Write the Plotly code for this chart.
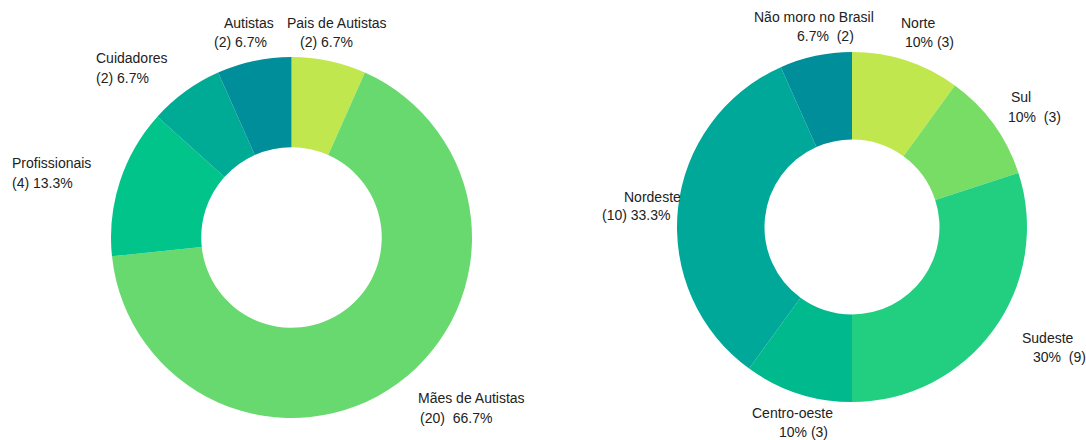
import plotly.graph_objects as go

# ---- data ----
grp_labels = ["Pais de Autistas", "Mães de Autistas", "Profissionais", "Cuidadores", "Autistas"]
grp_values = [2, 20, 4, 2, 2]
grp_colors = ["#c0e84e", "#68d96e", "#00c48a", "#00ab96", "#008f9a"]
grp_fmt = ["({n}) {p}", "({n})  {p}", "({n}) {p}", "({n}) {p}", "({n}) {p}"]

reg_labels = ["Norte", "Sul", "Sudeste", "Centro-oeste", "Nordeste", "Não moro no Brasil"]
reg_values = [3, 3, 9, 3, 10, 2]
reg_colors = ["#c0e84e", "#78dd64", "#22cf80", "#00b98c", "#00a89a", "#008f9a"]
reg_fmt = ["{p} ({n})", "{p}  ({n})", "{p}  ({n})", "{p} ({n})", "({n}) {p}", "{p}  ({n})"]

W, H = 1086, 440

# label line positions in pixels: (left x, y of line1, left x line2, y of line2)
grp_pos = [(285, 23, 298, 42), (416, 398, 418, 418), (10, 163, 10, 183),
           (94, 58, 94, 78), (222, 23, 212, 42)]
reg_pos = [(899, 23, 903, 42), (1009, 97, 1006, 117), (1020, 338, 1031, 357),
           (750, 413, 777, 432), (622, 197, 600, 215), (752, 17, 795, 36)]


def pct(v, tot):
    s = f"{100 * v / tot:.1f}"
    if s.endswith(".0"):
        s = s[:-2]
    return s + "%"


def dom(x0, x1, yc, r):
    return dict(x=[x0 / W, x1 / W], y=[(H - yc - r) / H, (H - yc + r) / H])


fig = go.Figure()
fig.add_trace(go.Pie(labels=grp_labels, values=grp_values, hole=0.5, sort=False,
                     direction="clockwise", rotation=0, textinfo="none",
                     marker=dict(colors=grp_colors, line=dict(width=0)),
                     domain=dom(111, 472, 237.5, 180.5), showlegend=False))
fig.add_trace(go.Pie(labels=reg_labels, values=reg_values, hole=0.5, sort=False,
                     direction="clockwise", rotation=0, textinfo="none",
                     marker=dict(colors=reg_colors, line=dict(width=0)),
                     domain=dom(677, 1027, 227, 175), showlegend=False))

anns = []
font = dict(family="Liberation Sans, Arial, sans-serif", size=14, color="#222222")
for labels, values, fmts, poss in [(grp_labels, grp_values, grp_fmt, grp_pos),
                                   (reg_labels, reg_values, reg_fmt, reg_pos)]:
    tot = sum(values)
    for lab, v, f, (x1, y1, x2, y2) in zip(labels, values, fmts, poss):
        anns.append(dict(text=lab, x=x1 / W, y=1 - y1 / H, xref="paper", yref="paper",
                         xanchor="left", yanchor="middle", showarrow=False, font=font))
        anns.append(dict(text=f.format(n=v, p=pct(v, tot)), x=x2 / W, y=1 - y2 / H,
                         xref="paper", yref="paper", xanchor="left", yanchor="middle",
                         showarrow=False, font=font))

fig.update_layout(width=W, height=H, margin=dict(l=0, r=0, t=0, b=0),
                  paper_bgcolor="white", plot_bgcolor="white", annotations=anns)
fig.write_html("out.html")
